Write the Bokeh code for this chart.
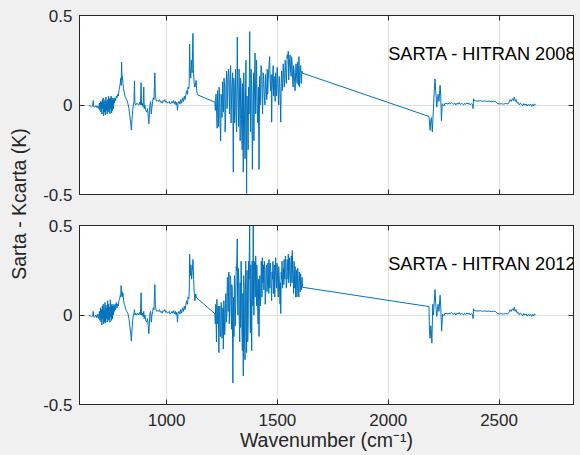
import math
from bokeh.plotting import figure
from bokeh.models import Range1d, FixedTicker, LinearAxis, Label, Grid
from bokeh.layouts import row, column
from bokeh.embed import file_html
from bokeh.resources import INLINE

# ---------------- data (wavenumber cm-1, Sarta - Kcarta in K) ----------------
x_ticks = [1000, 1500, 2000, 2500]
y_ticks = [-0.5, 0, 0.5]
y_tick_labels = ["-0.5", "0", "0.5"]
x_lim = (607, 2836)
y_lim = (-0.5, 0.5)
panel_titles = ["SARTA - HITRAN 2008", "SARTA - HITRAN 2012"]
title_pos = (2000, 0.285)

lw_2008 = [(649,-0.005),(655,-0.004),(661,-0.010),(666,-0.006),(669,0.025),(671,-0.010),(676,-0.012),(681,-0.004),(686,-0.015),(690,-0.005),(694,-0.020),(697,0.010),(699,-0.030),(702,0.020),(704,-0.040),(706,0.015),(708,-0.050),(710,0.030),(712,-0.020),(714,0.040),(716,-0.060),(718,0.020),(720,-0.040),(722,0.030),(724,-0.055),(726,0.045),(728,-0.030),(730,0.020),(732,-0.050),(734,0.030),(736,-0.040),(738,0.050),(740,-0.035),(742,0.035),(744,-0.050),(746,0.040),(748,-0.020),(750,0.050),(752,-0.045),(754,0.030),(756,-0.030),(758,0.040),(760,-0.020),(762,0.035),(764,0.010),(767,0.040),(770,0.025),(773,0.050),(776,0.040),(779,0.060),(782,0.050),(785,0.080),(788,0.100),(791,0.120),(793,0.150),(795,0.110),(797,0.240),(799,0.140),(801,0.160),(803,0.120),(806,0.090),(809,0.070),(812,0.050),(816,0.040),(820,0.030),(825,0.010),(830,-0.020),(834,-0.060),(838,-0.100),(841,-0.140),(844,-0.080),(847,-0.030),(850,0.000),(853,0.020),(855,0.135),(857,0.010),(861,0.000),(865,0.010),(869,0.005),(874,0.000),(878,0.015),(882,0.000),(885,0.125),(887,0.000),(890,0.010),(894,-0.010),(897,0.100),(899,-0.020),(902,0.000),(906,-0.030),(910,-0.040),(914,-0.020),(917,-0.060),(920,-0.105),(922,-0.050),(925,0.000),(928,0.020),(931,-0.050),(934,-0.010),(937,0.020),(940,0.040),(943,0.030),(947,0.180),(949,0.060),(952,0.030),(956,0.020),(960,0.025),(964,0.020),(968,0.030),(972,0.015),(976,0.020),(980,0.010),(984,0.025),(988,0.020),(992,0.030),(996,0.015),(1000,0.020),(1004,0.010),(1008,0.015),(1012,0.020),(1016,0.005),(1020,0.010),(1024,0.020),(1028,0.010),(1032,0.025),(1036,0.005),(1040,0.020),(1043,0.000),(1046,0.015),(1049,-0.030),(1052,0.010),(1056,0.020),(1060,0.005),(1064,0.030),(1068,0.010),(1072,0.040),(1076,0.020),(1080,0.050),(1083,0.030),(1086,0.050),(1090,0.080),(1094,0.060),(1097,0.100),(1100,0.090),(1102,0.120),(1104,0.340),(1106,0.200),(1109,0.150),(1112,0.250),(1115,0.180),(1117,0.300),(1119,0.400),(1121,0.200),(1124,0.127),(1127,0.100),(1130,0.110),(1133,0.137),(1136,0.080),(1139,0.057)]

mw_2008 = [(1218,0.016),(1220,-0.030),(1221,0.010),(1223,0.060),(1226,-0.050),(1228,-0.130),(1230,0.080),(1232,0.020),(1235,-0.120),(1237,0.100),(1239,0.050),(1241,-0.090),(1244,-0.200),(1246,0.060),(1248,0.030),(1250,-0.070),(1253,0.130),(1255,0.020),(1257,-0.040),(1259,0.150),(1262,0.100),(1264,-0.150),(1266,-0.080),(1268,0.120),(1271,0.190),(1273,-0.020),(1275,0.050),(1277,0.160),(1280,0.200),(1282,0.080),(1284,-0.050),(1286,0.140),(1289,0.220),(1291,-0.100),(1293,0.030),(1295,0.120),(1298,0.180),(1301,-0.375),(1303,0.150),(1305,0.100),(1307,-0.100),(1309,0.050),(1311,0.200),(1313,-0.050),(1316,-0.150),(1319,0.380),(1321,0.100),(1323,0.000),(1325,-0.120),(1327,0.200),(1329,0.050),(1332,-0.200),(1334,0.150),(1336,0.100),(1338,-0.080),(1341,-0.250),(1343,0.120),(1346,-0.375),(1348,0.180),(1350,0.050),(1352,-0.150),(1354,-0.300),(1356,0.050),(1358,0.250),(1361,-0.495),(1363,0.050),(1366,-0.100),(1368,-0.250),(1370,0.100),(1372,-0.050),(1375,0.410),(1377,0.050),(1379,-0.150),(1381,0.200),(1384,0.100),(1387,-0.360),(1390,0.050),(1392,0.180),(1394,-0.200),(1396,0.050),(1399,0.290),(1402,-0.050),(1404,0.120),(1406,0.250),(1408,0.020),(1411,-0.100),(1414,0.100),(1417,-0.360),(1420,0.160),(1422,0.000),(1424,0.050),(1426,0.220),(1429,0.200),(1431,0.060),(1433,-0.050),(1436,0.180),(1438,0.150),(1441,0.050),(1444,0.000),(1446,0.170),(1449,0.100),(1452,0.030),(1454,0.200),(1456,0.060),(1458,0.120),(1461,0.200),(1465,0.270),(1467,0.140),(1469,0.080),(1472,0.170),(1474,-0.096),(1476,0.080),(1478,0.150),(1481,0.220),(1483,0.050),(1485,0.160),(1487,0.100),(1490,0.020),(1492,0.180),(1494,0.120),(1496,0.050),(1499,0.210),(1501,0.150),(1504,0.060),(1506,0.000),(1508,0.160),(1510,0.120),(1513,0.030),(1515,-0.096),(1517,0.120),(1519,0.190),(1522,0.080),(1524,0.120),(1526,0.230),(1528,0.190),(1531,0.100),(1533,0.150),(1535,0.250),(1537,0.220),(1540,0.120),(1542,0.180),(1544,0.280),(1546,0.260),(1549,0.300),(1551,0.140),(1553,0.200),(1555,0.260),(1557,0.280),(1560,0.180),(1562,0.160),(1564,0.270),(1566,0.240),(1569,0.130),(1571,0.100),(1573,0.220),(1575,0.200),(1578,0.120),(1580,0.080),(1582,0.180),(1584,0.230),(1587,0.150),(1589,0.120),(1591,0.240),(1593,0.200),(1595,0.110),(1597,0.270),(1600,0.100),(1602,0.180),(1605,0.220),(1608,0.120),(1610,0.190),(1613,0.178)]

sw_2008 = [(2184,-0.064),(2189,-0.142),(2192,-0.090),(2195,-0.070),(2199,-0.150),(2204,-0.020),(2207,0.060),(2211,0.146),(2214,0.080),(2216,0.050),(2219,-0.012),(2222,0.030),(2225,0.060),(2229,0.020),(2234,0.110),(2237,0.050),(2240,-0.087),(2244,0.007),(2248,0.000),(2252,-0.005),(2256,0.010),(2260,0.007),(2265,0.010),(2270,0.004),(2275,0.012),(2280,0.006),(2285,0.014),(2290,0.008),(2295,0.004),(2300,0.012),(2305,0.000),(2310,0.010),(2315,0.005),(2320,0.014),(2325,0.003),(2330,0.009),(2335,0.006),(2340,0.000),(2345,0.010),(2350,0.004),(2355,0.012),(2360,0.006),(2365,0.010),(2370,0.000),(2375,0.008),(2380,0.004),(2383,-0.020),(2385,0.035),(2388,0.025),(2395,0.023),(2405,0.022),(2415,0.024),(2425,0.021),(2435,0.023),(2445,0.020),(2455,0.022),(2465,0.019),(2475,0.021),(2485,0.018),(2490,0.012),(2494,0.008),(2500,0.006),(2510,0.007),(2520,0.005),(2530,0.008),(2540,0.006),(2545,0.015),(2550,0.030),(2555,0.020),(2560,0.035),(2565,0.025),(2569,0.045),(2573,0.020),(2577,0.030),(2582,0.010),(2587,0.015),(2592,0.000),(2597,0.010),(2602,0.005),(2607,-0.005),(2612,0.008),(2617,0.000),(2622,0.006),(2627,-0.006),(2632,0.004),(2637,-0.004),(2642,0.006),(2647,-0.008),(2652,0.004),(2656,-0.006),(2660,0.006),(2665,0.002)]

lw_2012 = [(649,-0.005),(655,-0.004),(661,-0.010),(666,-0.006),(669,0.020),(671,-0.010),(676,-0.012),(681,0.000),(686,-0.015),(690,0.005),(694,-0.020),(697,0.020),(699,-0.030),(702,0.040),(704,-0.040),(706,0.030),(708,-0.055),(710,0.050),(712,-0.020),(714,0.060),(716,-0.050),(718,0.030),(720,-0.040),(722,0.070),(724,-0.045),(726,0.055),(728,-0.020),(730,0.040),(732,-0.040),(734,0.080),(736,-0.030),(738,0.060),(740,-0.025),(742,0.045),(744,-0.040),(746,0.085),(748,-0.010),(750,0.060),(752,-0.030),(754,0.050),(756,-0.020),(758,0.060),(760,0.000),(762,0.050),(764,0.020),(767,0.060),(770,0.030),(773,0.070),(776,0.040),(779,0.060),(782,0.050),(785,0.080),(788,0.090),(791,0.110),(793,0.100),(795,0.165),(797,0.110),(799,0.130),(801,0.100),(803,0.120),(806,0.080),(809,0.060),(812,0.050),(816,0.030),(820,0.020),(825,0.010),(830,-0.020),(834,-0.060),(838,-0.100),(841,-0.146),(844,-0.080),(847,-0.030),(850,0.000),(853,0.010),(855,0.030),(857,0.000),(861,0.010),(865,0.000),(869,0.010),(874,0.000),(878,0.015),(882,0.000),(885,0.125),(887,0.000),(890,0.010),(894,-0.010),(897,0.020),(899,-0.020),(902,0.000),(906,-0.030),(910,-0.040),(914,-0.020),(917,-0.060),(920,-0.105),(922,-0.050),(925,0.010),(928,0.020),(931,-0.040),(934,0.000),(937,0.020),(940,0.040),(943,0.030),(947,0.170),(949,0.060),(952,0.030),(956,0.020),(960,0.025),(964,0.020),(968,0.030),(972,0.015),(976,0.020),(980,0.010),(984,0.025),(988,0.020),(992,0.030),(996,0.015),(1000,0.020),(1004,0.010),(1008,0.015),(1012,0.020),(1016,0.005),(1020,0.010),(1024,0.020),(1028,0.010),(1032,0.025),(1036,0.005),(1040,0.020),(1043,0.000),(1046,0.015),(1049,-0.040),(1052,0.010),(1056,0.020),(1060,0.005),(1064,0.030),(1068,0.010),(1072,0.040),(1076,0.020),(1080,0.050),(1083,0.030),(1086,0.050),(1090,0.080),(1094,0.060),(1097,0.100),(1100,0.090),(1102,0.120),(1104,0.340),(1107,0.220),(1110,0.280),(1113,0.200),(1116,0.250),(1119,0.310),(1122,0.200),(1125,0.120),(1128,0.080),(1131,0.118),(1134,0.100),(1137,0.094)]

mw_2012 = [(1218,0.007),(1220,-0.050),(1221,0.040),(1222,0.060),(1224,-0.080),(1225,-0.150),(1227,0.087),(1229,0.000),(1231,-0.050),(1233,0.050),(1236,-0.210),(1238,0.020),(1240,0.050),(1242,-0.100),(1244,-0.120),(1246,0.070),(1248,0.060),(1250,-0.130),(1252,-0.080),(1254,0.040),(1256,-0.190),(1258,0.080),(1260,0.030),(1262,-0.110),(1264,-0.060),(1266,0.100),(1268,0.120),(1270,-0.040),(1272,0.000),(1274,0.210),(1276,0.180),(1278,0.020),(1281,0.240),(1283,-0.050),(1285,0.050),(1287,0.220),(1289,0.200),(1291,0.020),(1293,-0.080),(1294,0.170),(1296,0.150),(1299,-0.380),(1302,0.100),(1304,-0.120),(1306,0.220),(1308,0.180),(1310,-0.060),(1312,0.050),(1314,0.270),(1316,0.250),(1319,0.425),(1320,0.100),(1322,0.000),(1324,0.260),(1326,0.200),(1328,-0.050),(1330,-0.150),(1332,0.180),(1334,-0.070),(1336,0.300),(1338,0.200),(1340,-0.100),(1342,-0.200),(1344,0.120),(1346,-0.340),(1348,0.220),(1350,0.150),(1352,-0.180),(1354,-0.250),(1356,0.100),(1357,0.300),(1359,0.050),(1361,-0.210),(1363,0.250),(1365,0.100),(1366,-0.150),(1368,-0.050),(1370,0.300),(1372,0.200),(1375,0.550),(1376,0.100),(1378,-0.100),(1380,0.280),(1381,0.150),(1383,0.000),(1384,-0.200),(1386,0.300),(1387,0.200),(1389,0.050),(1391,0.550),(1392,0.150),(1394,0.000),(1396,0.300),(1398,0.250),(1400,0.100),(1402,0.330),(1404,0.180),(1406,0.050),(1407,0.280),(1409,0.200),(1411,0.050),(1413,-0.050),(1415,0.200),(1417,-0.120),(1419,0.150),(1421,0.220),(1423,0.050),(1425,0.100),(1427,0.300),(1429,0.250),(1430,0.100),(1432,0.320),(1434,0.200),(1436,0.180),(1437,0.280),(1439,0.140),(1441,0.300),(1443,0.250),(1445,0.060),(1447,0.120),(1449,0.260),(1451,0.280),(1453,0.130),(1455,0.160),(1457,0.290),(1459,0.220),(1461,0.120),(1462,0.310),(1464,0.200),(1466,0.150),(1468,0.290),(1470,0.250),(1472,0.140),(1474,0.080),(1476,0.240),(1478,0.200),(1480,0.300),(1482,0.120),(1484,0.220),(1486,0.280),(1488,0.100),(1489,0.180),(1491,0.250),(1492,0.320),(1494,0.200),(1496,0.150),(1498,0.290),(1500,0.250),(1502,0.160),(1504,0.100),(1506,0.270),(1508,0.220),(1510,0.130),(1512,0.060),(1514,0.180),(1515,0.008),(1517,0.240),(1519,0.200),(1521,0.300),(1523,0.150),(1525,0.220),(1527,0.260),(1529,0.170),(1530,0.310),(1532,0.230),(1534,0.200),(1536,0.330),(1538,0.280),(1540,0.150),(1542,0.180),(1544,0.310),(1546,0.300),(1548,0.200),(1549,0.340),(1551,0.180),(1553,0.220),(1555,0.320),(1557,0.300),(1559,0.160),(1561,0.200),(1563,0.330),(1564,0.280),(1566,0.180),(1567,0.360),(1569,0.250),(1571,0.220),(1573,0.120),(1575,0.300),(1577,0.200),(1578,0.150),(1580,0.270),(1582,0.100),(1584,0.200),(1586,0.250),(1588,0.100),(1590,0.150),(1592,0.260),(1593,0.220),(1595,0.120),(1597,0.100),(1599,0.240),(1601,0.200),(1603,0.130),(1605,0.230),(1607,0.170),(1609,0.140),(1611,0.210),(1613,0.155)]

sw_2012 = [(2184,0.047),(2186,-0.087),(2189,-0.130),(2192,-0.060),(2194,-0.080),(2197,-0.157),(2201,0.060),(2204,0.000),(2208,0.080),(2211,0.142),(2214,0.070),(2216,0.040),(2219,-0.008),(2222,0.030),(2225,0.060),(2229,0.020),(2234,0.110),(2237,0.050),(2241,-0.090),(2245,0.005),(2249,0.000),(2252,-0.004),(2256,0.010),(2260,0.007),(2265,0.010),(2270,0.004),(2275,0.012),(2280,0.006),(2285,0.014),(2290,0.008),(2295,0.004),(2300,0.012),(2305,0.000),(2310,0.010),(2315,0.005),(2320,0.014),(2325,0.003),(2330,0.009),(2335,0.006),(2340,0.000),(2345,0.010),(2350,0.004),(2355,0.012),(2360,0.006),(2365,0.010),(2370,0.000),(2375,0.008),(2380,0.004),(2383,-0.020),(2385,0.035),(2388,0.025),(2395,0.023),(2405,0.022),(2415,0.024),(2425,0.021),(2435,0.023),(2445,0.020),(2455,0.022),(2465,0.019),(2475,0.021),(2485,0.018),(2490,0.012),(2494,0.008),(2500,0.006),(2510,0.007),(2520,0.005),(2530,0.008),(2540,0.006),(2545,0.015),(2550,0.030),(2555,0.020),(2560,0.035),(2565,0.025),(2569,0.045),(2573,0.020),(2577,0.030),(2582,0.010),(2587,0.015),(2592,0.000),(2597,0.010),(2602,0.005),(2607,-0.005),(2612,0.008),(2617,0.000),(2622,0.006),(2627,-0.006),(2632,0.004),(2637,-0.004),(2642,0.006),(2647,-0.008),(2652,0.004),(2656,-0.006),(2660,0.006),(2665,0.002)]

# ---------------- style ----------------
FONT = "Liberation Sans"
BG = "#f0f0f0"
INK = "#262626"
BLUE = "#0072BD"
GRID = "#dfdfdf"


def make_axis(ticks, labels, standoff):
    ax = LinearAxis(ticker=FixedTicker(ticks=ticks))
    ax.axis_line_color = INK
    ax.major_tick_line_color = INK
    ax.major_tick_in = 5
    ax.major_tick_out = 0
    ax.minor_tick_line_color = None
    ax.major_label_text_font = FONT
    ax.major_label_text_font_size = "17px"
    ax.major_label_text_color = INK
    ax.major_label_standoff = standoff
    if labels is None:
        ax.major_label_overrides = {t: "" for t in ticks}
    else:
        ax.major_label_overrides = dict(zip(ticks, labels))
    return ax


def panel(series, title, height, bottom, show_x):
    pts = [p for seg in series for p in seg]
    xs = [p[0] for p in pts]
    ys = [p[1] for p in pts]
    f = figure(width=540, height=height, x_range=Range1d(*x_lim), y_range=Range1d(*y_lim),
               x_axis_type=None, y_axis_type=None, output_backend="svg", toolbar_location=None,
               min_border_left=39, min_border_right=7, min_border_top=15, min_border_bottom=bottom)
    f.background_fill_color = "white"
    f.border_fill_color = BG
    f.outline_line_color = INK
    f.add_layout(Grid(dimension=0, ticker=FixedTicker(ticks=x_ticks), grid_line_color=GRID))
    f.add_layout(Grid(dimension=1, ticker=FixedTicker(ticks=y_ticks), grid_line_color=GRID))
    f.line(xs, ys, line_color=BLUE, line_width=1)
    f.add_layout(make_axis(y_ticks, y_tick_labels, 7), "left")
    f.add_layout(make_axis(y_ticks, None, 0), "right")
    f.add_layout(make_axis(x_ticks, None, 0), "above")
    bx = make_axis(x_ticks, [str(t) for t in x_ticks] if show_x else None, 9 if show_x else 0)
    if show_x:
        bx.axis_label = "Wavenumber (cm⁻¹)"
        bx.axis_label_text_font = FONT
        bx.axis_label_text_font_size = "19.5px"
        bx.axis_label_text_font_style = "normal"
        bx.axis_label_text_color = INK
        bx.axis_label_standoff = 0
    f.add_layout(bx, "below")
    f.add_layout(Label(x=title_pos[0], y=title_pos[1], text=title, text_font=FONT,
                       text_font_size="18.2px", text_color="black", text_baseline="alphabetic"))
    return f


p1 = panel([lw_2008, mw_2008, sw_2008], panel_titles[0], 210, 16, False)
p2 = panel([lw_2012, mw_2012, sw_2012], panel_titles[1], 245, 51, True)

lf = figure(width=40, height=455, x_range=Range1d(0, 40), y_range=Range1d(0, 455),
            x_axis_type=None, y_axis_type=None, output_backend="svg", toolbar_location=None,
            min_border=0)
lf.outline_line_color = None
lf.background_fill_color = BG
lf.border_fill_color = BG
lf.add_layout(Label(x=18, y=455 - 203.5, text="Sarta - Kcarta (K)", angle=math.pi / 2,
                    text_align="center", text_baseline="middle", text_font=FONT,
                    text_font_size="19.5px", text_color=INK))

layout = row(lf, column(p1, p2, styles={"background-color": BG}), styles={"background-color": BG})
open("out.html", "w").write(file_html(layout, INLINE))
